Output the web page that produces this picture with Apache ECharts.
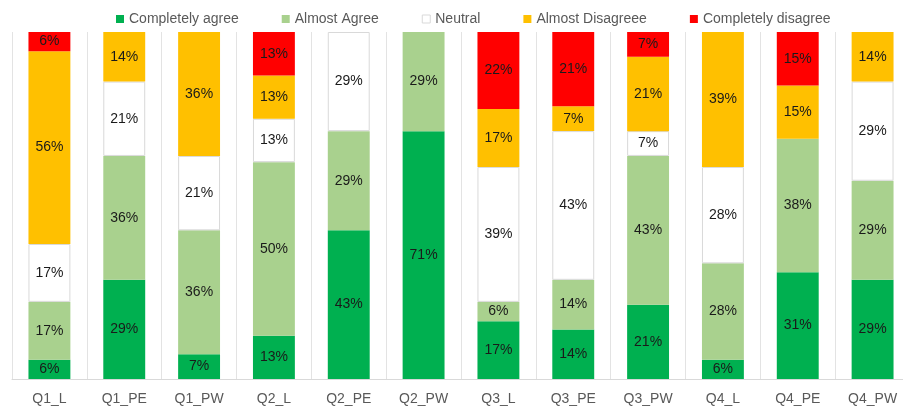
<!DOCTYPE html>
<html><head><meta charset="utf-8">
<script src="https://cdn.jsdelivr.net/npm/echarts@6/dist/echarts.min.js"></script>
<style>html,body{margin:0;padding:0;background:#fff;overflow:hidden}#c{width:910px;height:409px}</style>
</head><body><div id="c"></div>
<script>
const categories = ['Q1_L','Q1_PE','Q1_PW','Q2_L','Q2_PE','Q2_PW','Q3_L','Q3_PE','Q3_PW','Q4_L','Q4_PE','Q4_PW'];
const completelyAgree    = [5.56, 28.57, 7.14, 12.5, 42.86, 71.43, 16.67, 14.29, 21.43, 5.56, 30.77, 28.57];
const almostAgree        = [16.67, 35.71, 35.71, 50, 28.57, 28.57, 5.56, 14.29, 42.86, 27.78, 38.46, 28.57];
const neutral            = [16.67, 21.43, 21.43, 12.5, 28.57, 0, 38.89, 42.86, 7.14, 27.78, 0, 28.57];
const almostDisagree     = [55.56, 14.29, 35.71, 12.5, 0, 0, 16.67, 7.14, 21.43, 38.89, 15.38, 14.29];
const completelyDisagree = [5.56, 0, 0, 12.5, 0, 0, 22.22, 21.43, 7.14, 0, 15.38, 0];

const seriesDefs = [
  {name:'Completely agree', data:completelyAgree, color:'#00B050'},
  {name:'Almost Agree', data:almostAgree, color:'#A9D18E'},
  {name:'Neutral', data:neutral, color:'#FFFFFF', border:'#D9D9D9'},
  {name:'Almost Disagreee', data:almostDisagree, color:'#FFC000'},
  {name:'Completely disagree', data:completelyDisagree, color:'#FF0000'}
];

const chart = echarts.init(document.getElementById('c'));
chart.setOption({
  animation:false,
  legend:{
    top:7, left:111, itemWidth:8, itemHeight:8, itemGap:43, icon:'rect',
    textStyle:{color:'#595959', fontSize:14, fontFamily:'Liberation Sans'},
    data: seriesDefs.map(s=>({name:s.name, itemStyle:{color:s.color, borderColor:s.border||s.color, borderWidth:s.border?1:0}}))
  },
  grid:{left:12, right:0, top:32, bottom:30, containLabel:false},
  xAxis:{
    type:'category', data:categories,
    axisLine:{lineStyle:{color:'#D9D9D9'}},
    axisTick:{show:false},
    splitLine:{show:true, lineStyle:{color:'#E3E3E3'}},
    axisLabel:{color:'#595959', fontSize:14, fontFamily:'Liberation Sans', margin:13, interval:0}
  },
  yAxis:{type:'value', min:0, max:100, show:false, splitLine:{show:false}},
  series: seriesDefs.map(s=>({
    name:s.name, type:'bar', stack:'total', barWidth:'56%',
    data:s.data.map(v=>v===0?null:v),
    itemStyle:{color:s.color, borderColor:s.border||s.color, borderWidth:s.border?1:0},
    label:{show:true, position:'inside', color:'#1a1a1a', fontSize:14, fontFamily:'Liberation Sans',
      formatter:p=>Math.round(p.value)+'%'}
  }))
});
</script></body></html>
